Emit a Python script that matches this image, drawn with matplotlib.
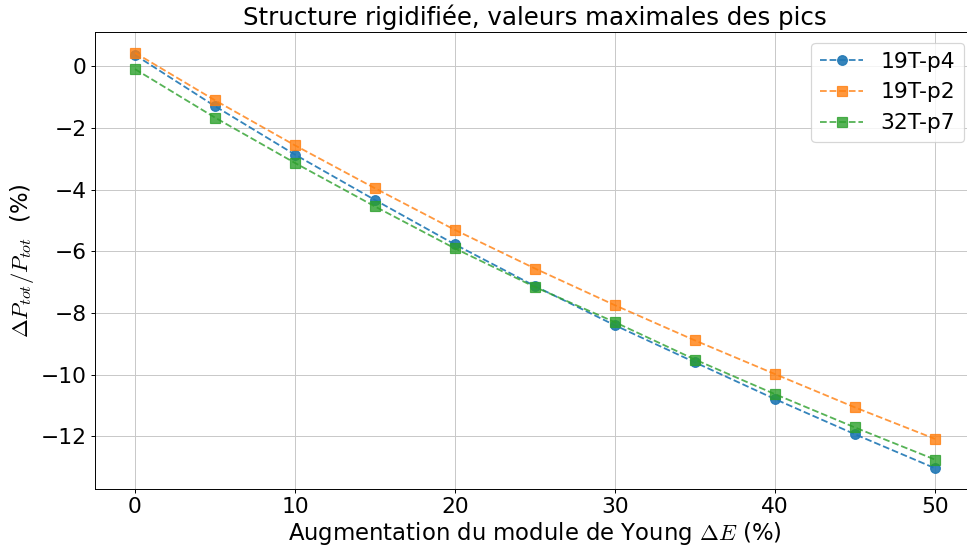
import matplotlib.pyplot as plt

# Variation of the Young modulus (%)
delta_e = [0, 5, 10, 15, 20, 25, 30, 35, 40, 45, 50]

# Relative variation of total power for each peak (%)
p4_19t = [0.36, -1.30, -2.87, -4.34, -5.78, -7.13, -8.40, -9.60, -10.79, -11.93, -13.03]
p2_19t = [0.43, -1.11, -2.57, -3.96, -5.31, -6.56, -7.75, -8.89, -9.98, -11.06, -12.08]
p7_32t = [-0.10, -1.67, -3.14, -4.55, -5.91, -7.16, -8.30, -9.51, -10.63, -11.71, -12.75]

plt.rcParams['font.size'] = 18
plt.rcParams['mathtext.fontset'] = 'cm'

dpi = 87
fig = plt.figure(figsize=(967 / dpi, 545 / dpi), dpi=dpi)
ax = fig.add_axes([95 / 967, 56 / 545, 880 / 967, 457 / 545])

ax.plot(delta_e, p4_19t, 'o--', color='tab:blue', markersize=8, alpha=0.9, label='19T-p4')
ax.plot(delta_e, p2_19t, 's--', color='tab:orange', markersize=8, alpha=0.8, label='19T-p2')
ax.plot(delta_e, p7_32t, 's--', color='tab:green', markersize=8, alpha=0.8, label='32T-p7')

ax.grid(True, color='#c8c8c8')
ax.set_axisbelow(True)
ax.set_title('Structure rigidifiée, valeurs maximales des pics', fontsize=20.3)
ax.set_xlabel(r'Augmentation du module de Young $\Delta E$ (%)', fontsize=18.8, labelpad=2)
ax.set_ylabel(r'$\Delta P_{tot}/P_{tot}$  (%)', fontsize=18.8)
ax.legend(loc='upper right')

fig.savefig('out.png', dpi=dpi)
